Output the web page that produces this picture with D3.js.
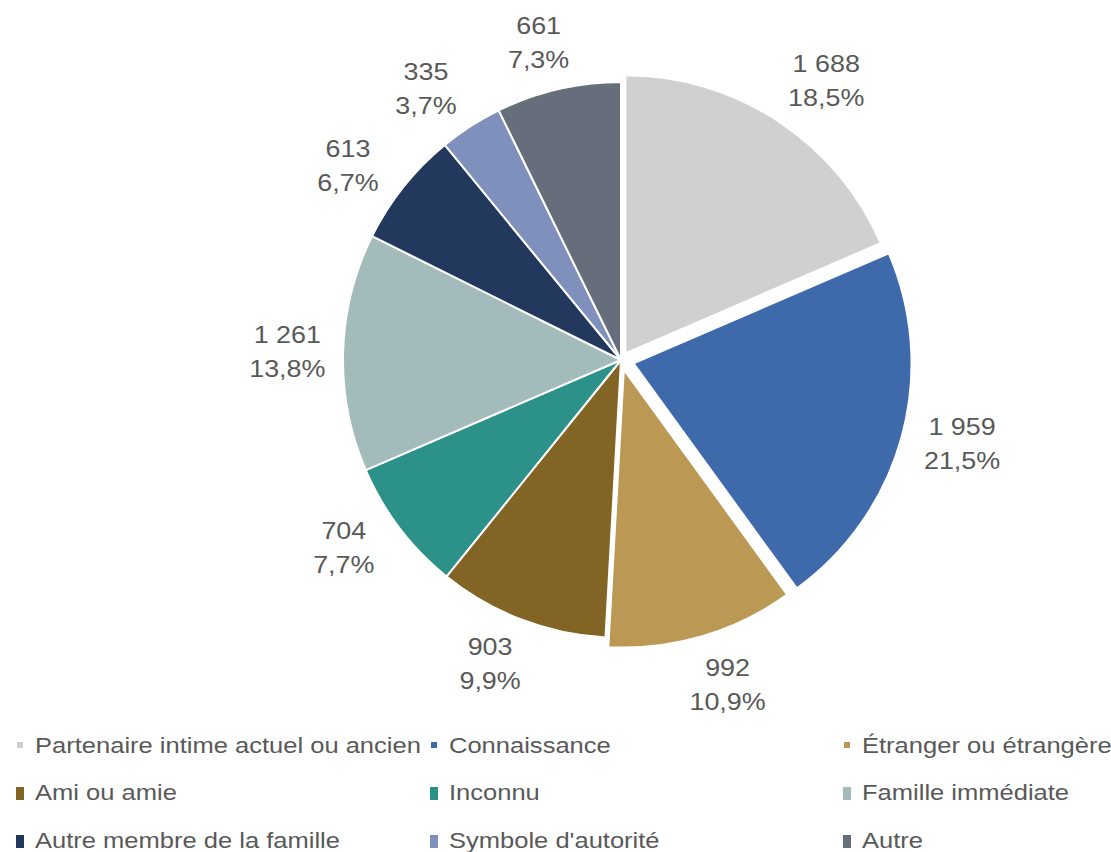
<!DOCTYPE html>
<html lang="fr">

<head>
    <title>Auteur présumé</title>
    <meta charset="utf-8">
    <script src="https://d3js.org/d3.v7.min.js"></script>
    <style>
        body { margin: 0; background: #fff; }
        svg { display: block; font-family: "Liberation Sans", Arial, sans-serif; }
    </style>
</head>

<body>
    <div id="container1"></div>
    <script>
        // Data
        const categories = [
            "Partenaire intime actuel ou ancien",
            "Connaissance",
            "Étranger ou étrangère",
            "Ami ou amie",
            "Inconnu",
            "Famille immédiate",
            "Autre membre de la famille",
            "Symbole d'autorité",
            "Autre"
        ];
        const counts = [1688, 1959, 992, 903, 704, 1261, 613, 335, 661];
        const percents = ["18,5%", "21,5%", "10,9%", "9,9%", "7,7%", "13,8%", "6,7%", "3,7%", "7,3%"];
        const countLabels = ["1 688", "1 959", "992", "903", "704", "1 261", "613", "335", "661"];

        // Styles
        const colors = ["#d0d0d0", "#3e6aab", "#bb9854", "#826425", "#2c9189",
            "#a3bcbb", "#22385c", "#7f90bd", "#676e7b"];
        const explode = [8, 13, 10, 0, 0, 0, 0, 0, 0];
        const textColor = "#595959";

        // Dimensions
        const width = 1111;
        const height = 852;
        const cx = 621;
        const cy = 360;
        const radius = 278;
        const gap = 17;
        const labelSpread = 1.12; // labels sit on a slightly wider oval

        const svg = d3.select("#container1")
            .append("svg")
            .attr("width", width)
            .attr("height", height);

        const pie = d3.pie().sort(null).value(d => d);
        const arcs = pie(counts);
        const arc = d3.arc().innerRadius(0).outerRadius(radius);

        const chart = svg.append("g")
            .attr("transform", `translate(${cx},${cy})`);

        const dir = d => {
            const a = (d.startAngle + d.endAngle) / 2;
            return [Math.sin(a), -Math.cos(a)];
        };

        // Slices
        chart.selectAll(".slice")
            .data(arcs)
            .enter().append("path")
            .attr("class", "slice")
            .attr("d", arc)
            .attr("transform", (d, i) => {
                const [ux, uy] = dir(d);
                return `translate(${ux * explode[i]},${uy * explode[i]})`;
            })
            .attr("fill", (d, i) => colors[i])
            .attr("stroke", "#fff")
            .attr("stroke-width", 2)
            .attr("stroke-linejoin", "round");

        // stretch helper to mimic the wide rendering of the source
        function stretch(sel, k) {
            sel.each(function () {
                const w = this.getComputedTextLength();
                d3.select(this)
                    .attr("textLength", w * k)
                    .attr("lengthAdjust", "spacingAndGlyphs");
            });
        }

        // Data labels
        const labels = chart.selectAll(".label")
            .data(arcs)
            .enter().append("g")
            .attr("class", "label");

        labels.append("text")
            .attr("class", "l1")
            .attr("text-anchor", "middle")
            .attr("y", -9)
            .style("font-size", "23px")
            .attr("fill", textColor)
            .text((d, i) => countLabels[i]);

        labels.append("text")
            .attr("class", "l2")
            .attr("text-anchor", "middle")
            .attr("y", 25)
            .style("font-size", "23px")
            .attr("fill", textColor)
            .text((d, i) => percents[i]);

        stretch(labels.selectAll("text"), 1.17);

        labels.attr("transform", function (d, i) {
            const [ux, uy] = dir(d);
            const ex = ux * explode[i], ey = uy * explode[i];
            const n = Math.hypot(ux * labelSpread, uy);
            const vx = ux * labelSpread / n, vy = uy / n;
            const w = d3.max(d3.select(this).selectAll("text").nodes(), t => +t.getAttribute("textLength"));
            const h = 52;
            const dist = radius + gap + Math.abs(vx) * w / 2 + Math.abs(vy) * h / 2;
            return `translate(${ex + vx * dist},${ey + vy * dist})`;
        });

        // Legend
        const legendCols = [17, 431, 844];
        const legendRows = [753, 800, 848];

        const legend = svg.selectAll(".legend")
            .data(categories)
            .enter().append("g")
            .attr("class", "legend")
            .attr("transform", (d, i) => `translate(${legendCols[i % 3]},${legendRows[Math.floor(i / 3)]})`);

        legend.append("rect")
            .attr("x", (d, i) => i < 3 ? 0 : -1)
            .attr("y", (d, i) => i < 3 ? -11 : -13)
            .attr("width", (d, i) => i < 3 ? 6 : 8)
            .attr("height", (d, i) => i < 3 ? 6 : 13)
            .attr("fill", (d, i) => colors[i]);

        legend.append("text")
            .attr("x", 18)
            .attr("y", 0)
            .style("font-size", "22px")
            .attr("fill", textColor)
            .text(d => d);

        stretch(legend.selectAll("text"), 1.16);
    </script>
</body>

</html>
